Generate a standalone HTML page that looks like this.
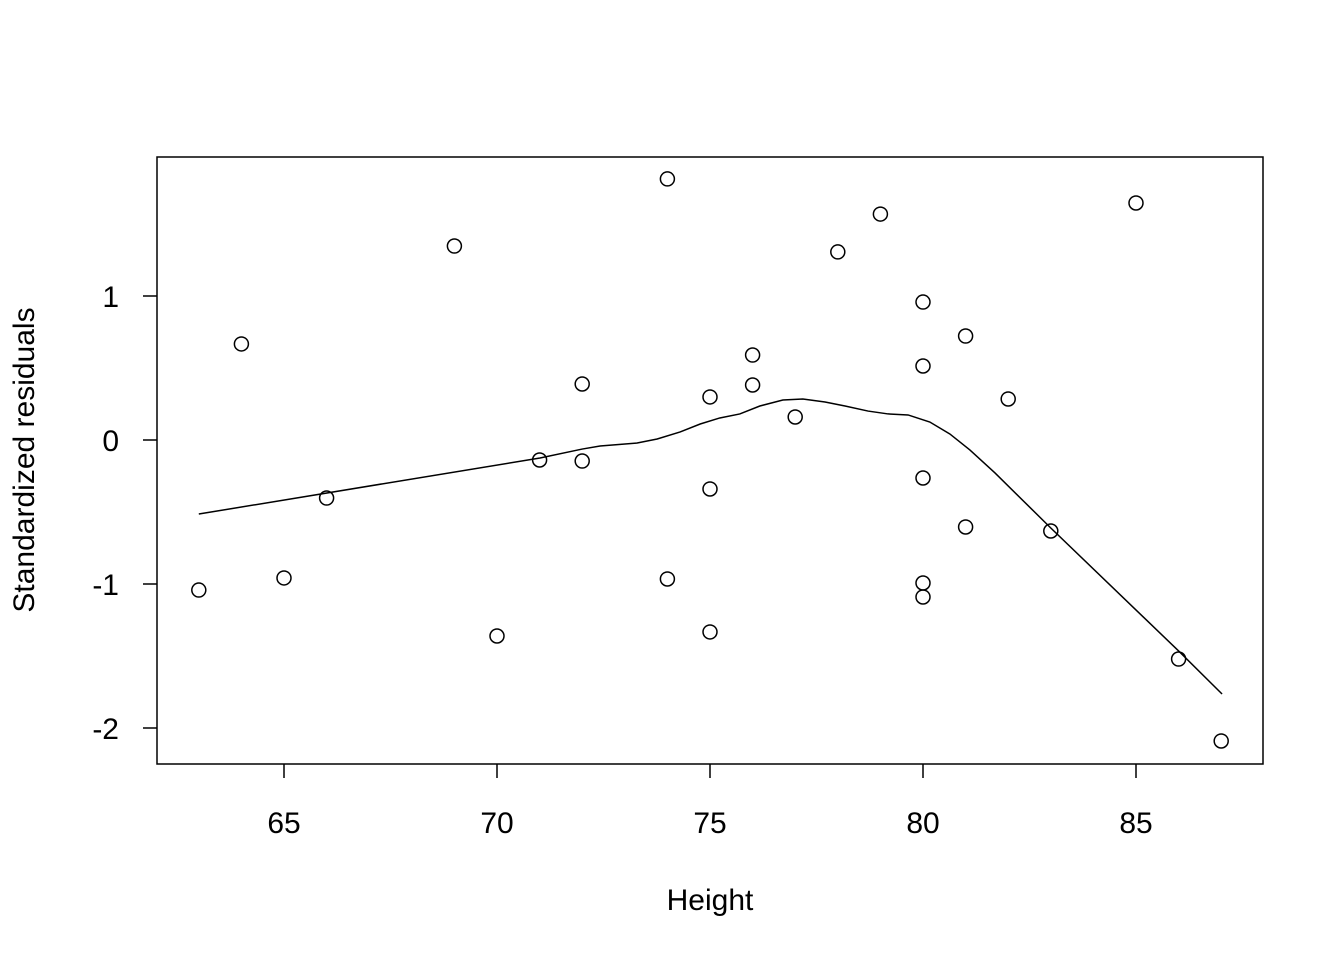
<!DOCTYPE html>
<html><head><meta charset="utf-8"><style>
html,body{margin:0;padding:0;background:#fff}
svg{display:block;font-family:"Liberation Sans",Arial,sans-serif}
</style></head><body>
<svg id="chart" width="1344" height="960" viewBox="0 0 1344 960" xmlns="http://www.w3.org/2000/svg">
<rect x="0" y="0" width="1344" height="960" fill="#fff"/>
<rect x="157" y="157" width="1106" height="607" fill="none" stroke="#000" stroke-width="1.5"/>
<text x="710" y="910" font-size="30" text-anchor="middle">Height</text>
<text transform="translate(34,460) rotate(-90)" font-size="30" text-anchor="middle">Standardized residuals</text>
<g id="ticks"></g><g id="marks"></g>
</svg>
<script>
const heights=[63,64,65,66,69,70,71,72,72,74,74,75,75,75,76,76,77,78,79,80,80,80,80,80,81,81,82,83,85,86,87];
const residuals=[-1.042,0.667,-0.958,-0.403,1.347,-1.361,-0.139,0.389,-0.146,1.813,-0.965,0.299,-0.340,-1.333,0.590,0.382,0.160,1.306,1.569,0.958,0.514,-0.264,-0.993,-1.090,0.722,-0.604,0.285,-0.632,1.646,-1.521,-2.090];
const smoothX=[63,71.01,72.0,72.42,73.29,73.76,74.30,74.77,75.23,75.70,76.17,76.71,77.18,77.70,78.17,78.71,79.18,79.65,80.16,80.63,81.10,81.69,83.0,86.0,87.02];
const smoothY=[-0.514,-0.125,-0.063,-0.042,-0.021,0.007,0.056,0.111,0.153,0.181,0.236,0.278,0.285,0.264,0.236,0.201,0.181,0.174,0.125,0.042,-0.069,-0.229,-0.611,-1.465,-1.764];
const xTicks=[65,70,75,80,85];
const yTicks=[-2,-1,0,1];
const xTickLabels=["65","70","75","80","85"];
const yTickLabels=["-2","-1","0","1"];
const NS="http://www.w3.org/2000/svg";
function sx(v){return 284+(v-65)*42.6;}
function sy(v){return 440-v*144;}
function mk(t,a,p){const e=document.createElementNS(NS,t);for(const k in a)e.setAttribute(k,a[k]);p.appendChild(e);return e;}
const tg=document.getElementById('ticks'),mg=document.getElementById('marks');
xTicks.forEach((v,i)=>{
 const l=mk('line',{x1:sx(v),x2:sx(v),y1:764,y2:778,stroke:'#000','stroke-width':1.5},tg);
 
 
 const t=mk('text',{x:sx(v),y:833,'font-size':30,'text-anchor':'middle'},tg);t.textContent=xTickLabels[i];
 
 
});
yTicks.forEach((v,i)=>{
 const l=mk('line',{x1:143,x2:157,y1:sy(v),y2:sy(v),stroke:'#000','stroke-width':1.5},tg);
 
 
 const t=mk('text',{x:119,y:sy(v)+11,'font-size':30,'text-anchor':'end'},tg);t.textContent=yTickLabels[i];
 
 
});
const pts=smoothX.map((x,i)=>sx(x)+','+sy(smoothY[i])).join(' ');
const pl=mk('polyline',{points:pts,fill:'none',stroke:'#000','stroke-width':1.5},mg);


heights.forEach((h,i)=>{
 const c=mk('circle',{cx:sx(h),cy:sy(residuals[i]),r:7,fill:'none',stroke:'#000','stroke-width':1.5},mg);
 
 
});
</script>
</body></html>
